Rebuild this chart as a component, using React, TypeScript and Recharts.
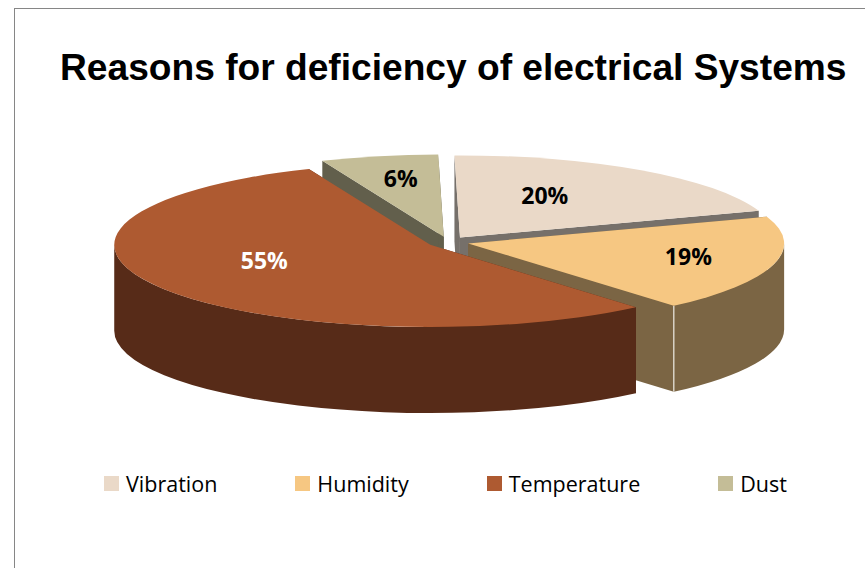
import React from 'react';
import { PieChart, Pie, Legend } from 'recharts';

const reasons = ['Vibration', 'Humidity', 'Temperature', 'Dust'];
const shares = [20, 19, 55, 6];

const topColors = ['#EAD9C8', '#F6C782', '#AE5A31', '#C4BD97'];
const sideColors = ['#76706A', '#7B6544', '#572B18', '#625F4C'];
const labelColors = ['#000000', '#000000', '#FFFFFF', '#000000'];

// Pixel nudges so each percentage sits where the slice has room
const labelNudge = [
  [-33, 1],
  [22, -1],
  [9, -13],
  [-1, -6],
];

const tableData = reasons.map((name, i) => ({ name, value: shares[i] }));

const TILT = 0.26; // squash of the circle into an ellipse
const DEPTH = 86; // height of the cylinder wall
const EXPLODE = 0.066; // slice pull-out, as a share of the radius
const RAD = Math.PI / 180;

const rim = (cx: number, cy: number, r: number, deg: number, drop = 0) => ({
  x: cx + r * Math.cos(deg * RAD),
  y: cy - r * TILT * Math.sin(deg * RAD) + drop,
});

// Move the slice's apex along its middle angle
const explodedCentre = (props: any) => {
  const mid = props.midAngle;
  return rim(props.cx, props.cy, props.outerRadius * EXPLODE, mid);
};

const arcTo = (r: number, from: number, to: number, pt: { x: number; y: number }) => {
  const large = Math.abs(from - to) > 180 ? 1 : 0;
  const sweep = from > to ? 1 : 0;
  return `A ${r} ${r * TILT} 0 ${large} ${sweep} ${pt.x} ${pt.y}`;
};

const SliceTop = (props: any) => {
  const { outerRadius: r, startAngle, endAngle, index } = props;
  const c = explodedCentre(props);
  const a = rim(c.x, c.y, r, startAngle);
  const b = rim(c.x, c.y, r, endAngle);
  const d = `M ${c.x} ${c.y} L ${a.x} ${a.y} ${arcTo(r, startAngle, endAngle, b)} Z`;
  return <path d={d} fill={topColors[index]} />;
};

const SliceWall = (props: any) => {
  const { outerRadius: r, startAngle, endAngle, index } = props;
  const c = explodedCentre(props);
  const fill = sideColors[index];

  const radial = (deg: number) => {
    const p = rim(c.x, c.y, r, deg);
    return `M ${c.x} ${c.y} L ${p.x} ${p.y} L ${p.x} ${p.y + DEPTH} L ${c.x} ${c.y + DEPTH} Z`;
  };

  // Only the part of the rim between -180 and 0 degrees faces the viewer
  const hi = Math.min(startAngle, 0);
  const lo = Math.max(endAngle, -180);
  let outer = null;
  if (hi > lo) {
    const p = rim(c.x, c.y, r, hi);
    const q = rim(c.x, c.y, r, lo);
    const d =
      `M ${p.x} ${p.y} ${arcTo(r, hi, lo, q)} L ${q.x} ${q.y + DEPTH} ` +
      `${arcTo(r, lo, hi, { x: p.x, y: p.y + DEPTH })} Z`;
    outer = <path d={d} fill={fill} />;
  }

  // Pale seam where the cut face meets the rounded wall
  const seamTop = rim(c.x, c.y, r, endAngle);
  const showSeam = endAngle < 0 && endAngle > -90;

  return (
    <g>
      <path d={radial(startAngle)} fill={fill} />
      <path d={radial(endAngle)} fill={fill} />
      {outer}
      {showSeam && (
        <line
          x1={seamTop.x}
          y1={seamTop.y}
          x2={seamTop.x}
          y2={seamTop.y + DEPTH}
          stroke="#D8D2C6"
          strokeWidth={1.5}
        />
      )}
    </g>
  );
};

const renderPercent = (props: any) => {
  const { outerRadius: r, midAngle, index, value } = props;
  const c = explodedCentre(props);
  const p = rim(c.x, c.y, r * 0.65, midAngle);
  return (
    <text
      x={p.x + labelNudge[index][0]}
      y={p.y + labelNudge[index][1]}
      textAnchor="middle"
      dominantBaseline="central"
      fill={labelColors[index]}
      style={{ fontFamily: '"Open Sans", sans-serif', fontWeight: 700, fontSize: 23 }}
    >
      {value}%
    </text>
  );
};

const LegendRow = ({ payload }: any) => {
  const rows = (payload || []).filter((entry: any) => entry.type !== 'none');
  return (
    <div style={{ display: 'flex', gap: 78, fontFamily: '"Open Sans", sans-serif', fontSize: 21.5, color: '#000' }}>
      {rows.map((entry: any, i: number) => (
        <div key={entry.value} style={{ display: 'flex', alignItems: 'center', gap: 7 }}>
          <span style={{ width: 15, height: 15, background: topColors[i], display: 'inline-block' }} />
          <span>{entry.value}</span>
        </div>
      ))}
    </div>
  );
};

const App = () => {
  return (
    <div style={{ position: 'fixed', left: 0, top: 0, width: 865, height: 568, overflow: 'hidden', background: '#fff' }}>
      <div
        style={{
          position: 'absolute',
          left: 14,
          top: 8,
          right: 0,
          bottom: 0,
          borderLeft: '1px solid #868686',
          borderTop: '1px solid #868686',
        }}
      />
      <div
        style={{
          position: 'absolute',
          left: 60,
          top: 46,
          whiteSpace: 'nowrap',
          fontFamily: '"Liberation Sans", Arial, sans-serif',
          fontWeight: 700,
          fontSize: 37.15,
          color: '#000',
        }}
      >
        Reasons for deficiency of electrical Systems
      </div>
      <div style={{ position: 'absolute', left: 0, top: 0 }}>
        <PieChart width={865} height={568} margin={{ top: 0, right: 0, bottom: 0, left: 0 }}>
          <Pie
            data={tableData}
            dataKey="value"
            nameKey="name"
            cx={448}
            cy={242}
            outerRadius={316}
            startAngle={91}
            endAngle={-269}
            stroke="none"
            legendType="none"
            shape={SliceWall}
            isAnimationActive={false}
          />
          <Pie
            data={tableData}
            dataKey="value"
            nameKey="name"
            cx={448}
            cy={242}
            outerRadius={316}
            startAngle={91}
            endAngle={-269}
            stroke="none"
            shape={SliceTop}
            label={renderPercent}
            labelLine={false}
            isAnimationActive={false}
          />
          <Legend
            content={<LegendRow />}
            itemSorter={null}
            wrapperStyle={{ position: 'absolute', left: 104, top: 469, width: 'auto' }}
          />
        </PieChart>
      </div>
    </div>
  );
};

export default App;
